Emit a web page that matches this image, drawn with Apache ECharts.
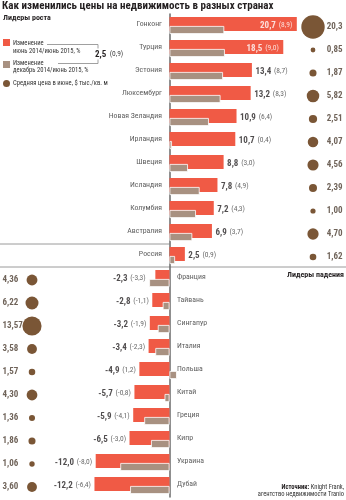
<!DOCTYPE html>
<html><head><meta charset="utf-8">
<script src="https://cdn.jsdelivr.net/npm/echarts@6/dist/echarts.min.js"></script>
<style>html,body{margin:0;padding:0;background:#fff}#c{width:346px;height:500px}</style>
</head><body><div id="c"></div>
<script>
// ---- data ----
const countries = ['Гонконг','Турция','Эстония','Люксембург','Новая Зеландия','Ирландия','Швеция','Исландия','Колумбия','Австралия','Россия','Франция','Тайвань','Сингапур','Италия','Польша','Китай','Греция','Кипр','Украина','Дубай'];
const changeYear = [20.7,18.5,13.4,13.2,10.9,10.7,8.8,7.8,7.2,6.9,2.5,-2.3,-2.8,-3.2,-3.4,-4.9,-5.7,-5.9,-6.5,-12.0,-12.2];
const changeDec  = [8.9,9.0,8.7,8.3,6.4,0.4,3.0,4.9,4.3,3.7,0.9,-3.3,-1.1,-1.9,-2.3,1.2,-0.8,-4.1,-3.0,-8.0,-6.4];
const avgPrice   = [20.3,0.85,1.87,5.82,2.51,4.07,4.56,2.39,1.00,4.70,1.62,4.36,6.22,13.57,3.58,1.57,4.30,1.36,1.86,1.06,3.60];
const legendYear = 'Изменение\nиюнь 2014/июнь 2015, %';
const legendDec = 'Изменение\nдекабрь 2014/июнь 2015, %';
const legendPrice = 'Средняя цена в июне, $ тыс./кв. м';
const titleText = 'Как изменились цены на недвижимость в разных странах';
const growthTitle = 'Лидеры роста';
const fallTitle = 'Лидеры падения';

// ---- style ----
const RED = '#f05a45', BROWN = '#a89181', BUBBLE = '#7a5636', TXT = '#231f20';
const FONT = '"Roboto Condensed","Open Sans Condensed",sans-serif';
const W = 346, X_MIN = -27.56, X_MAX = 28.70;
const px2v = px => X_MIN + px * (X_MAX - X_MIN) / W;
const fmt = (v, d) => v.toFixed(d).replace('.', ',');
const fmtPrice = v => fmt(v, v >= 20 ? 1 : 2);
const INSIDE_MIN = 15;

const chart = echarts.init(document.getElementById('c'), null, {renderer: 'canvas'});

const nameData = countries.map((c, i) => ({
  value: [0, c],
  label: {position: changeYear[i] >= 0 ? 'left' : 'right'}
}));
const valueData = countries.map((c, i) => {
  const r = changeYear[i], b = changeDec[i];
  const inside = r > INSIDE_MIN;
  const anchor = inside ? r : (r >= 0 ? Math.max(r, b) : Math.min(r, b));
  return {
    value: [anchor, c],
    label: inside ? {position: 'left', distance: 4,
        formatter: '{bw|' + fmt(r, 1) + '} {nw|(' + fmt(b, 1) + ')}'}
      : {position: r >= 0 ? 'right' : 'left', distance: 3,
        formatter: '{b|' + fmt(r, 1) + '} {n|(' + fmt(b, 1) + ')}'}
  };
});
const bubbleData = countries.map((c, i) => [changeYear[i] >= 0 ? px2v(313) : px2v(32), c, avgPrice[i]]);
const priceData = countries.map((c, i) => ({
  value: [changeYear[i] >= 0 ? px2v(343) : px2v(2), c, avgPrice[i]],
  label: {position: changeYear[i] >= 0 ? 'left' : 'right'}
}));

const hidden = {symbol: 'circle', symbolSize: 1, itemStyle: {color: 'rgba(0,0,0,0)'}, silent: true};

chart.setOption({
  animation: false,
  grid: {left: 0, right: 0, top: 14, bottom: 3},
  xAxis: {type: 'value', min: X_MIN, max: X_MAX, show: false},
  yAxis: {type: 'category', data: countries, inverse: true,
    axisLine: {show: true, onZero: true, lineStyle: {color: '#6a6a6a', width: 1.5}},
    axisTick: {show: false}, axisLabel: {show: false}, splitLine: {show: false}},
  series: [
    {type: 'bar', data: changeYear, barWidth: 14, barGap: '-35.7%', itemStyle: {color: RED}, silent: true},
    {type: 'bar', data: changeDec, barWidth: 8, barGap: '-35.7%',
      itemStyle: {color: BROWN, borderColor: '#fff', borderWidth: 0.8}, silent: true},
    Object.assign({type: 'scatter', data: nameData, z: 5,
      label: {show: true, distance: 7, offset: [0, -1.5], fontFamily: FONT, fontSize: 7.8, color: '#333',
        formatter: p => countries[p.dataIndex]}}, hidden),
    Object.assign({type: 'scatter', data: valueData, z: 5,
      label: {show: true, fontFamily: FONT,
        rich: {
          b: {fontFamily: FONT, fontSize: 9, fontWeight: 'bold', color: TXT},
          n: {fontFamily: FONT, fontSize: 7.5, color: '#444'},
          bw: {fontFamily: FONT, fontSize: 9, fontWeight: 'bold', color: '#fff'},
          nw: {fontFamily: FONT, fontSize: 7.5, color: '#fff'}
        }}}, hidden),
    {type: 'scatter', data: bubbleData, symbolSize: d => 5.2 * Math.sqrt(d[2]), symbolOffset: [0, 1.5],
      itemStyle: {color: BUBBLE, opacity: 1}, silent: true},
    Object.assign({type: 'scatter', data: priceData, z: 5,
      label: {show: true, distance: 0, offset: [0, 1.5], fontFamily: FONT, fontSize: 9, fontWeight: 'bold', color: '#4b3c2f',
        formatter: p => fmtPrice(p.value[2])}}, hidden)
  ]
});

// separators computed from the category axis
const yA = chart.convertToPixel({gridIndex: 0}, [0, 'Австралия'])[1];
const yR = chart.convertToPixel({gridIndex: 0}, [0, 'Россия'])[1];
const yF = chart.convertToPixel({gridIndex: 0}, [0, 'Франция'])[1];
const x0 = chart.convertToPixel({gridIndex: 0}, [0, 'Россия'])[0];
const ri = countries.indexOf('Россия');
const sampleText = '{b|' + fmt(changeYear[ri], 1) + '} {n|(' + fmt(changeDec[ri], 1) + ')}';

const legendStyle = {fontFamily: FONT, fontSize: 6.6, fill: '#333', lineHeight: 7.5};
chart.setOption({
  graphic: [
    {type: 'line', shape: {x1: 0, y1: (yA + yR) / 2, x2: x0, y2: (yA + yR) / 2}, style: {stroke: '#9a9a9a', lineWidth: 1}, silent: true},
    {type: 'line', shape: {x1: 0, y1: (yR + yF) / 2, x2: W, y2: (yR + yF) / 2}, style: {stroke: '#9a9a9a', lineWidth: 1}, silent: true},
    {type: 'text', x: 2, y: 6, style: {text: titleText, fontFamily: FONT, fontSize: 11, fontWeight: 'bold', fill: TXT, verticalAlign: 'middle'}},
    {type: 'text', x: 3, y: 18, style: {text: growthTitle, fontFamily: FONT, fontSize: 8, fontWeight: 'bold', fill: TXT, verticalAlign: 'middle'}},
    {type: 'text', x: 344, y: 275, style: {text: fallTitle, fontFamily: FONT, fontSize: 8, fontWeight: 'bold', fill: TXT, align: 'right', verticalAlign: 'middle'}},
    {type: 'rect', shape: {x: 3, y: 39, width: 7, height: 7}, style: {fill: RED}},
    {type: 'text', x: 13, y: 47.5, style: Object.assign({text: legendYear, verticalAlign: 'middle'}, legendStyle)},
    {type: 'rect', shape: {x: 3, y: 61, width: 7, height: 7}, style: {fill: BROWN}},
    {type: 'text', x: 13, y: 67, style: Object.assign({text: legendDec, verticalAlign: 'middle'}, legendStyle)},
    {type: 'circle', shape: {cx: 6.5, cy: 83.5, r: 3.5}, style: {fill: BUBBLE}},
    {type: 'text', x: 13, y: 83.5, style: Object.assign({text: legendPrice, verticalAlign: 'middle'}, legendStyle)},
    {type: 'polyline', shape: {points: [[47, 44.5], [98, 44.5], [98, 48.5]]}, style: {stroke: '#888', lineWidth: 0.8, fill: null}},
    {type: 'polyline', shape: {points: [[58, 63.5], [98, 63.5], [98, 59.5]]}, style: {stroke: '#888', lineWidth: 0.8, fill: null}},
    {type: 'text', x: 95, y: 54.5, style: {text: sampleText, verticalAlign: 'middle',
      rich: {b: {fontFamily: FONT, fontSize: 9, fontWeight: 'bold', fill: TXT}, n: {fontFamily: FONT, fontSize: 7.5, fill: '#444'}}}},
    {type: 'text', x: 344, y: 491, style: {text: '{b|Источник:} Knight Frank,\nагентство недвижимости Tranio', align: 'right', verticalAlign: 'middle',
      fontFamily: FONT, fontSize: 6.5, fill: '#333', lineHeight: 7.5,
      rich: {b: {fontFamily: FONT, fontSize: 6.5, fontWeight: 'bold', fill: TXT}}}}
  ]
});
</script></body></html>
